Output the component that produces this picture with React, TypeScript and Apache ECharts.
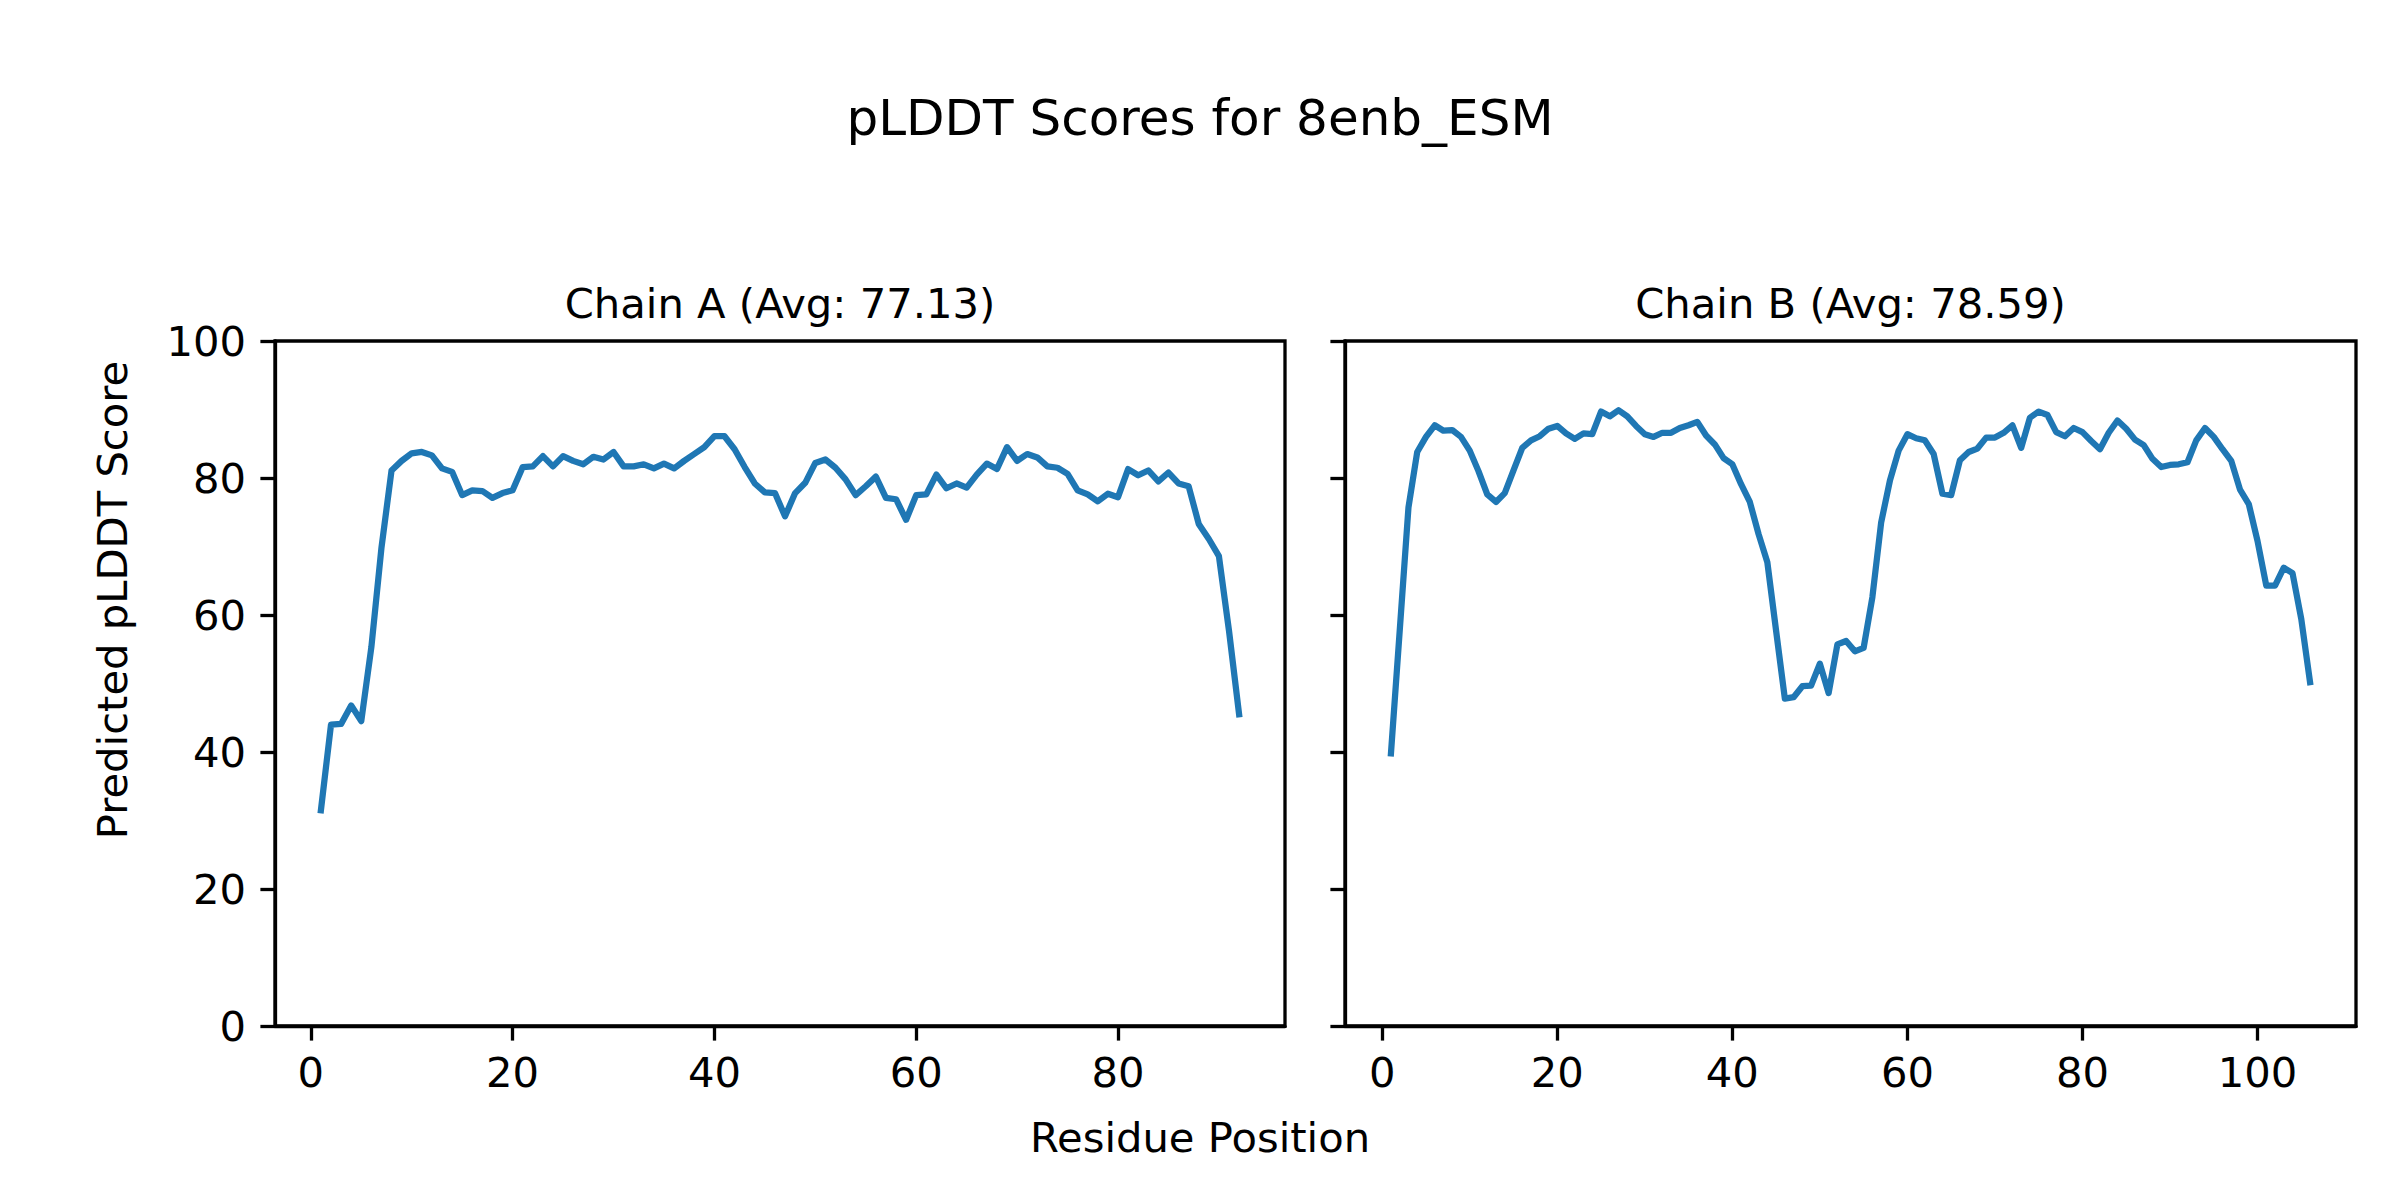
import React, { useEffect, useRef } from "react";
import * as echarts from "echarts";

const chainAScores = [
  31.5, 44.0, 44.1, 46.8, 44.5, 55.3, 69.8, 81.1, 82.5, 83.6,
  83.8, 83.3, 81.4, 80.9, 77.5, 78.2, 78.1, 77.1, 77.8, 78.2,
  81.6, 81.7, 83.2, 81.7, 83.2, 82.5, 82.0, 83.1, 82.7, 83.8,
  81.7, 81.7, 82.0, 81.4, 82.1, 81.4, 82.5, 83.5, 84.5, 86.1,
  86.1, 84.2, 81.6, 79.2, 77.9, 77.8, 74.4, 77.8, 79.3, 82.2,
  82.7, 81.5, 79.8, 77.5, 78.8, 80.2, 77.1, 76.9, 73.9, 77.5,
  77.6, 80.5, 78.5, 79.2, 78.6, 80.5, 82.1, 81.3, 84.5, 82.5,
  83.5, 83.0, 81.7, 81.5, 80.6, 78.2, 77.6, 76.6, 77.7, 77.2,
  81.3, 80.4, 81.1, 79.5, 80.8, 79.2, 78.8, 73.3, 71.1, 68.6,
  57.7, 45.5,
];

const chainBScores = [
  39.8, 57.7, 75.7, 83.8, 86.0, 87.7, 86.9, 87.0, 86.0, 84.0,
  81.0, 77.6, 76.5, 77.8, 81.1, 84.4, 85.5, 86.1, 87.2, 87.6,
  86.5, 85.7, 86.5, 86.4, 89.7, 89.0, 89.9, 89.0, 87.6, 86.4,
  86.0, 86.6, 86.6, 87.3, 87.7, 88.2, 86.2, 84.9, 82.9, 82.0,
  79.1, 76.5, 71.8, 67.7, 57.7, 47.8, 48.0, 49.6, 49.7, 52.9,
  48.6, 55.7, 56.2, 54.7, 55.2, 62.6, 73.5, 79.6, 84.0, 86.4,
  85.8, 85.5, 83.5, 77.7, 77.5, 82.6, 83.8, 84.3, 85.9, 85.9,
  86.6, 87.7, 84.4, 88.8, 89.7, 89.2, 86.7, 86.1, 87.3, 86.7,
  85.4, 84.2, 86.6, 88.4, 87.2, 85.6, 84.8, 82.8, 81.6, 81.9,
  82.0, 82.3, 85.5, 87.3, 86.0, 84.2, 82.5, 78.3, 76.2, 70.8,
  64.3, 64.3, 66.9, 66.1, 59.4, 50.2,
];

const xTicksA = [0, 20, 40, 60, 80];
const xTicksB = [0, 20, 40, 60, 80, 100];
const yTicks = [0, 20, 40, 60, 80, 100];

const chartTitle = "pLDDT Scores for 8enb_ESM";
const subTitles = ["Chain A (Avg: 77.13)", "Chain B (Avg: 78.59)"];
const xLabel = "Residue Position";
const yLabel = "Predicted pLDDT Score";

const FONT = "DejaVu Sans";
const BLUE = "#1f77b4";

function toPoints(scores: number[]) {
  return scores.map((v, i) => [i + 1, v]);
}

export default function App() {
  const ref = useRef<HTMLDivElement>(null);

  useEffect(() => {
    if (!ref.current) return;
    const chart = echarts.init(ref.current, null, { renderer: "svg" });

    const tickStyle = { color: "#000", width: 3.3 };
    const labelStyle = { color: "#000", fontSize: 41.7, fontFamily: FONT };

    const makeX = (gridIndex: number, min: number, max: number, ticks: number[]) => ({
      type: "value",
      gridIndex,
      min,
      max,
      splitLine: { show: false },
      axisLine: { show: true, onZero: false, lineStyle: tickStyle },
      axisTick: { show: true, length: 14.6, lineStyle: tickStyle, customValues: ticks },
      axisLabel: { ...labelStyle, margin: 25, customValues: ticks },
    });

    const makeY = (gridIndex: number, showLabels: boolean) => ({
      type: "value",
      gridIndex,
      min: 0,
      max: 100,
      interval: 20,
      splitLine: { show: false },
      axisLine: { show: true, onZero: false, lineStyle: tickStyle },
      axisTick: { show: true, length: 14.6, lineStyle: tickStyle, customValues: yTicks },
      axisLabel: { show: showLabels, ...labelStyle, margin: 29, customValues: yTicks },
    });

    const lineSeries = (idx: number, scores: number[]) => ({
      type: "line",
      xAxisIndex: idx,
      yAxisIndex: idx,
      data: toPoints(scores),
      showSymbol: false,
      symbol: "none",
      lineStyle: { color: BLUE, width: 6.25, join: "round", cap: "square" },
      emphasis: { disabled: true },
    });

    const textEl = (text: string, x: number, y: number, size: number, rotation = 0) => ({
      type: "text",
      x,
      y,
      rotation,
      style: {
        text,
        fill: "#000",
        font: `${size}px '${FONT}'`,
        align: "center",
        verticalAlign: "middle",
      },
    });

    chart.setOption({
      animation: false,
      backgroundColor: "#fff",
      grid: [
        { left: 275, top: 341, width: 1010, height: 685, show: true, borderColor: "#000", borderWidth: 3.3, backgroundColor: "transparent" },
        { left: 1345, top: 341, width: 1011, height: 685, show: true, borderColor: "#000", borderWidth: 3.3, backgroundColor: "transparent" },
      ],
      xAxis: [makeX(0, -3.55, 96.55, xTicksA), makeX(1, -4.25, 111.25, xTicksB)],
      yAxis: [makeY(0, true), makeY(1, false)],
      series: [lineSeries(0, chainAScores), lineSeries(1, chainBScores)],
      graphic: [
        textEl(chartTitle, 1200, 118, 50),
        textEl(subTitles[0], 780, 303, 41.7),
        textEl(subTitles[1], 1850.5, 303, 41.7),
        textEl(xLabel, 1200, 1137, 41.7),
        textEl(yLabel, 112, 600, 41.7, Math.PI / 2),
      ],
    });

    return () => chart.dispose();
  }, []);

  return (
    <div
      ref={ref}
      style={{ position: "fixed", left: 0, top: 0, width: 2400, height: 1200, background: "#fff" }}
    />
  );
}
